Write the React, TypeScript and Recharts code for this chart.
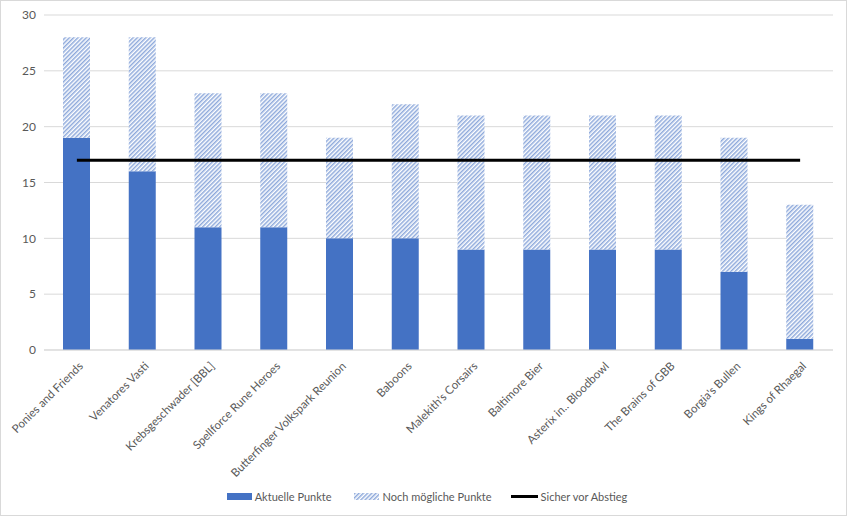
import React from "react";
import { ComposedChart, Bar, Line, XAxis, YAxis, CartesianGrid, Legend } from "recharts";

const teams = [
  "Ponies and Friends",
  "Venatores Vasti",
  "Krebsgeschwader [BBL]",
  "Spellforce Rune Heroes",
  "Butterfinger Volkspark Reunion",
  "Baboons",
  "Malekith's Corsairs",
  "Baltimore Bier",
  "Asterix in.. Bloodbowl",
  "The Brains of GBB",
  "Borgia's Bullen",
  "Kings of Rhaegal",
];
const aktuellePunkte = [19, 16, 11, 11, 10, 10, 9, 9, 9, 9, 7, 1];
const nochMoeglich = [9, 12, 12, 12, 9, 12, 12, 12, 12, 12, 12, 12];
const sicherVorAbstieg = [17, 17, 17, 17, 17, 17, 17, 17, 17, 17, 17, 17];
const yTicks = [0, 5, 10, 15, 20, 25, 30];

const data = teams.map((t, i) => ({
  team: t,
  aktuell: aktuellePunkte[i],
  moeglich: nochMoeglich[i],
  sicher: sicherVorAbstieg[i],
}));

const FONT = "Lato, 'Open Sans', sans-serif";
const TEXT = "#595959";

const XTick = (props: any) => {
  const { x, y, payload } = props;
  return (
    <g transform={`translate(${x + 4},${y + 6})`}>
      <text
        x={0}
        y={0}
        dy={4}
        textAnchor="end"
        transform="rotate(-45)"
        fill={TEXT}
        fontSize={11.5}
        fontFamily={FONT}
      >
        {payload.value}
      </text>
    </g>
  );
};

const LegendContent = () => (
  <div
    style={{
      display: "flex",
      justifyContent: "center",
      alignItems: "center",
      fontFamily: FONT,
      fontSize: 11,
      color: TEXT,
      height: 20,
      marginLeft: 21,
    }}
  >
    <span style={{ display: "inline-flex", alignItems: "center", marginRight: 22 }}>
      <svg width={25} height={7} style={{ marginRight: 3 }}>
        <rect width={25} height={7} fill="#4472C4" />
      </svg>
      Aktuelle Punkte
    </span>
    <span style={{ display: "inline-flex", alignItems: "center", marginRight: 19 }}>
      <svg width={25} height={7} style={{ marginRight: 4 }}>
        <defs>
          <pattern
            id="hatchLegend"
            patternUnits="userSpaceOnUse"
            width={3}
            height={3}
            patternTransform="rotate(45)"
          >
            <rect width={3} height={3} fill="#ffffff" />
            <rect width={1.5} height={3} fill="#8EA9DB" />
          </pattern>
        </defs>
        <rect width={25} height={7} fill="url(#hatchLegend)" />
      </svg>
      Noch mögliche Punkte
    </span>
    <span style={{ display: "inline-flex", alignItems: "center" }}>
      <svg width={27} height={7} style={{ marginRight: 3 }}>
        <line x1={0} y1={3.5} x2={27} y2={3.5} stroke="#000" strokeWidth={3} />
      </svg>
      Sicher vor Abstieg
    </span>
  </div>
);

export default function App() {
  return (
    <div style={{ position: "relative", width: 847, height: 516, background: "#fff" }}>
      <style>{"body{margin:0;}"}</style>
      <ComposedChart
        width={847}
        height={516}
        data={data}
        margin={{ top: 15, right: 14, bottom: 10, left: 0 }}
        barSize={27}
      >
        <defs>
          <pattern
            id="hatch"
            patternUnits="userSpaceOnUse"
            width={3}
            height={3}
            patternTransform="rotate(45)"
          >
            <rect width={3} height={3} fill="#ffffff" />
            <rect width={1.5} height={3} fill="#8EA9DB" />
          </pattern>
        </defs>
        <CartesianGrid vertical={false} stroke="#D9D9D9" strokeWidth={1} />
        <XAxis
          dataKey="team"
          interval={0}
          tick={<XTick />}
          tickLine={false}
          axisLine={{ stroke: "#D9D9D9" }}
          height={136}
        />
        <YAxis
          domain={[0, 30]}
          ticks={yTicks}
          tickLine={false}
          axisLine={false}
          width={44}
          tick={{ fill: TEXT, fontSize: 12, fontFamily: FONT }}
        />
        <Legend verticalAlign="bottom" content={<LegendContent />} />
        <Bar dataKey="aktuell" stackId="a" fill="#4472C4" isAnimationActive={false} />
        <Bar dataKey="moeglich" stackId="a" fill="url(#hatch)" isAnimationActive={false} />
        <Line
          dataKey="sicher"
          stroke="#000000"
          strokeWidth={3}
          dot={false}
          activeDot={false}
          type="linear"
          isAnimationActive={false}
        />
      </ComposedChart>
      <div
        style={{
          position: "absolute",
          left: 0,
          top: 0,
          width: 847,
          height: 516,
          boxSizing: "border-box",
          border: "1px solid #D9D9D9",
          pointerEvents: "none",
        }}
      />
    </div>
  );
}
